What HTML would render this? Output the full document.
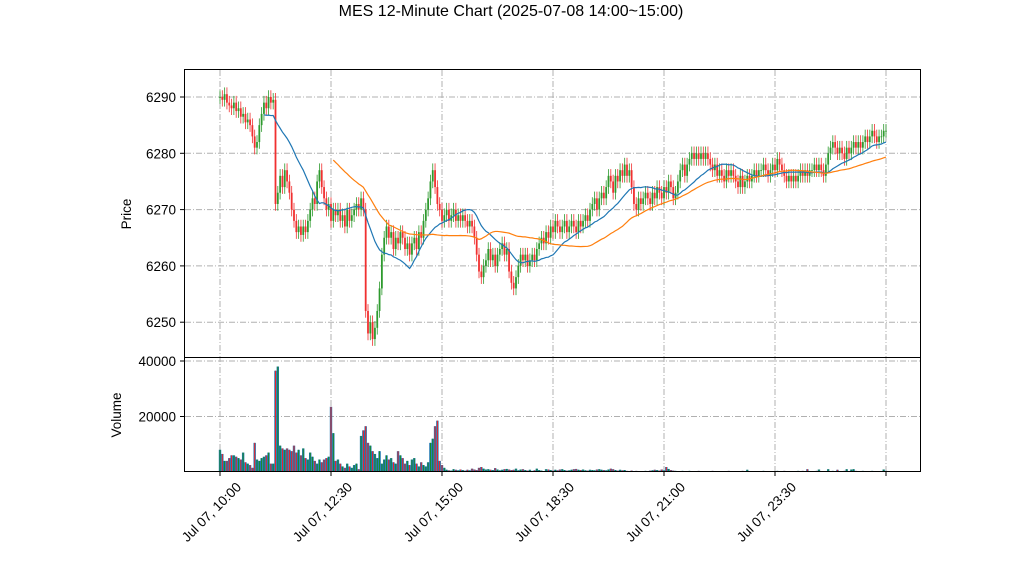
<!DOCTYPE html>
<html><head><meta charset="utf-8"><style>
body{margin:0;background:#fff;}
svg text{font-family:"Liberation Sans","DejaVu Sans",sans-serif;fill:#000;}
</style></head><body>
<svg id="chart" width="1022" height="575" xmlns="http://www.w3.org/2000/svg">
<rect width="1022" height="575" fill="#fff"/>
<text x="511" y="16" text-anchor="middle" font-size="16">MES 12-Minute Chart (2025-07-08 14:00~15:00)</text>
<g id="grid"></g>
<g id="vol"></g>
<g id="candles"></g>
<g id="ma"></g>
<rect x="184.5" y="69.5" width="736" height="288" fill="none" stroke="#000" stroke-width="1"/>
<rect x="184.5" y="357.5" width="736" height="114" fill="none" stroke="#000" stroke-width="1"/>
<g id="axes"></g>
<text transform="translate(131,214) rotate(-90)" text-anchor="middle" font-size="13.5">Price</text>
<text transform="translate(121,415) rotate(-90)" text-anchor="middle" font-size="13.5">Volume</text>
</svg>
<script>
const closes=[6290,6289.5,6290.5,6289,6288.5,
6288,6289,6287.5,6288,6286.5,6287,6285.5,6286,6285,
6283,6281,6282,6285,
6287,6289,6288,6290,6289,6289.5,
6271,
6273,6276,6274,6277,6275,6273,
6270,6268,6266,6267,6265.5,6267,6266,
6268,6270,6272,6271,6275,6277,
6274,6272,6270,6271,6268,6270,6269,
6270,6268,6269,6267,6270,6268,6269,6270,
6271,6270,6272,6270,
6252,6248,6250,6247,6249,6252,
6256,6262,6265,
6267,6265,6266,6263,6265,6264,6266,
6265,6263,6264,6262,6264,6265,6263,
6266,6265,6268,6270,6272,6275,6277,
6274,6271,6270,6268,
6269,6270,6268,6269,6270,6268,
6269,6268,6269,6268,6267,6268,6267,
6265,6262,6259,6258,
6260,6261,6263,6261,6262,6260,
6262,6263,6264,6262,6263,
6259,6257,6256,
6258,6260,6262,
6261,6262,6260,6261,6262,6261,6263,
6264,6265,6264,6266,6265,
6267,6266,6268,6267,6266,
6267,6268,6266,6267,6268,6267,6266,6268,6267,
6268,6269,6268,6270,
6271,6272,6270,6272,6273,6272,
6274,6276,6275,6273,6276,6275,6277,
6276,6278,6276,6277,
6274,6271,6270,6272,6271,6272,6273,6272,6271,
6273,6272,6274,6273,6272,6274,6273,
6275,6274,6272,6273,6275,6277,
6278,6276,6278,6279,
6280,6279,6280,6279,6280,6279,6280,6279,6278,
6277,6278,6276,6277,
6276,6275,6277,6276,6277,6276,
6275,6274,6276,6274,6275,6276,6275,
6276,6277,6276,6277,
6277,6278,6277,6276,6277,6278,6277,
6279,6278,
6277,6276,6275,6276,6275,6276,6275,6276,6277,
6276,6277,6276,6277,
6277,6278,6277,6278,6277,6276,6278,
6280,6281,6282,6281,6280,6281,
6280,6279,6281,6280,
6281,6282,6281,6282,6281,6282,6283,
6282,6283,6284,6283,6282,6283,
6283,6284,6284];
const volumes=[8000,6500,4000,4000,5000,
6000,6000,5500,5000,4500,
7000,3500,3000,2500,
1500,10500,4500,4000,
5000,5500,6000,7000,3000,
3000,36500,38000,
9500,8500,8000,8500,8000,7500,9500,7000,
8000,6000,8500,5000,4500,7000,5500,
4000,3000,4500,3500,4500,5000,5500,
23500,14000,
4000,4500,3000,2000,1500,3000,
2000,1500,2500,3000,1000,
13000,15000,16500,
10500,9500,7500,6500,5000,7500,3000,
4500,6000,4500,5000,3500,3000,7500,6000,
5000,3000,4000,2500,4500,5000,3000,
2000,3500,2500,2000,3500,
10500,12000,16500,18500,4000,
2500,1500,800,600,500,
1000,800,600,900,700,500,800,600,1200,900,700,1500,1800,1200,900,1000,800,700,1400,900,600,800,1000,1100,900,700,800,1200,600,900,1000,700,500,800,400,600,1200,700,500,300,
1000,900,700,500,800,600,900,1000,700,500,600,800,1000,1100,800,700,900,600,500,800,700,600,900,1000,800,700,600,900,1200,1000,700,500,800,600,700,400,300,500,300,400,300,200,300,400,300,500,600,800,700,500,900,600,1800,1100,700,500,400,300,300,400,
300,300,400,300,200,300,400,300,300,200,300,300,400,300,200,300,200,300,300,400,300,300,200,300,300,400,300,800,300,200,300,300,200,300,400,300,300,200,300,300,400,300,300,400,300,300,200,300,300,400,
300,400,300,1000,300,200,300,400,900,300,200,300,1000,300,400,300,800,300,300,400,1000,300,900,1000,400,300,300,400,300,300,300,400,300,300,300,300,900,400];
const priceTicks=[6250,6260,6270,6280,6290];
const volTicks=[20000,40000];
const xTickLabels=["Jul 07, 10:00","Jul 07, 12:30","Jul 07, 15:00","Jul 07, 18:30","Jul 07, 21:00","Jul 07, 23:30",""];
const maShort=20, maLong=50;

const NS="http://www.w3.org/2000/svg";
const n=closes.length;
const step=666/(n-1);
const xS=i=>220+i*step;
const yP=p=>97+(6290-p)*5.63;
const yV=v=>472-v*(111/40000);
function mk(tag,attrs,parent){const e=document.createElementNS(NS,tag);for(const k in attrs)e.setAttribute(k,attrs[k]);parent.appendChild(e);return e;}
const grid=document.getElementById('grid'),axes=document.getElementById('axes');
const gs={stroke:'#b0b0b0','stroke-width':1,'stroke-dasharray':'6,2,1,2'};
priceTicks.forEach(p=>{const y=yP(p);
 const g=mk('line',Object.assign({x1:185,x2:920,y1:y,y2:y},gs),grid);
 
 
 mk('line',{x1:180,x2:184,y1:y,y2:y,stroke:'#000'},axes);
 const t=mk('text',{x:176,y:y+5,'text-anchor':'end','font-size':'13.5'},axes);t.textContent=p;
 
 });
volTicks.forEach(v=>{const y=yV(v);
 const g=mk('line',Object.assign({x1:185,x2:920,y1:y,y2:y},gs),grid);
 
 
 mk('line',{x1:180,x2:184,y1:y,y2:y,stroke:'#000'},axes);
 const t=mk('text',{x:176,y:y+5,'text-anchor':'end','font-size':'13.5'},axes);t.textContent=v;
 
 });
xTickLabels.forEach((lab,k)=>{const x=220+k*111;
 const g=mk('line',Object.assign({x1:x,x2:x,y1:70,y2:471},gs),grid);
 
 
 mk('line',{x1:x,x2:x,y1:472,y2:476,stroke:'#000'},axes);
 if(lab){const t=mk('text',{transform:`translate(${x+22},${488}) rotate(-45)`,'text-anchor':'end','font-size':'13.5'},axes);t.textContent=lab;
 
 }});
const cg=document.getElementById('candles'),vg=document.getElementById('vol');
for(let i=0;i<n;i++){
 const c=closes[i],o=i?closes[i-1]:c;
 const up=c>=o,col=up?'#2e9a2e':'#f03030';
 const x=xS(i);
 const hi=Math.max(o,c)+1.2,lo=Math.min(o,c)-1.2;
 const w=mk('line',{x1:x,x2:x,y1:yP(hi),y2:yP(lo),stroke:col,'stroke-width':0.8},cg);
 
 
 const top=yP(Math.max(o,c)),bot=yP(Math.min(o,c));
 const b=mk('rect',{x:x-0.9,y:top,width:1.8,height:Math.max(bot-top,0.8),fill:col},cg);
 
 
 const vy=yV(volumes[i]);
 const vb=mk('rect',{x:x-1.2,y:vy,width:2.4,height:472-vy,fill:'#1f77b4'},vg);
 
 
 const vs=mk('rect',{x:x-0.45,y:vy,width:0.9,height:472-vy,fill:up?'#1a8a1a':'#ff1a1a'},vg);
 
 
}
function maPath(win,color,name){let d='';
 for(let i=win-1;i<n;i++){let s=0;for(let j=i-win+1;j<=i;j++)s+=closes[j];
  d+=(d?'L':'M')+xS(i).toFixed(2)+','+yP(s/win).toFixed(2);}
 const p=mk('path',{d:d,fill:'none',stroke:color,'stroke-width':1.2},document.getElementById('ma'));
 
 }
maPath(maShort,'#1f77b4','moving-average-short');
maPath(maLong,'#ff7f0e','moving-average-long');
</script>
</body></html>
